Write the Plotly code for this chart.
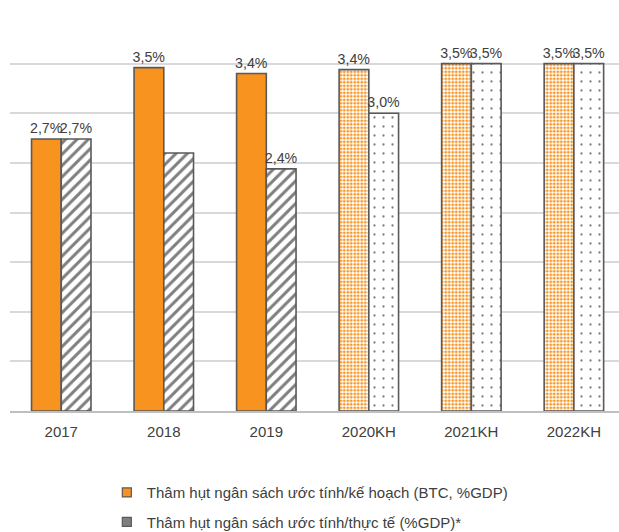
import plotly.graph_objects as go

# Budget deficit, % of GDP
years = ["2017", "2018", "2019", "2020KH", "2021KH", "2022KH"]
plan_deficit = [2.74, 3.46, 3.40, 3.44, 3.5, 3.5]      # estimate / plan (BTC)
actual_deficit = [2.74, 2.60, 2.44, 3.0, 3.5, 3.5]     # estimate / actual
actual_labelled = [True, False, True, True, True, True]

plan_name = "Thâm hụt ngân sách ước tính/kế hoạch (BTC, %GDP)"
actual_name = "Thâm hụt ngân sách ước tính/thực tế (%GDP)*"

ORANGE = "#F7931E"
GREY = "#7F7F7F"
EDGE = "#595959"
TEXT = "#404040"
FONT = "Liberation Sans, Arial, sans-serif"
FS = 15
LABEL_FS = 14.2


def pct(v):
    return f"{v:.1f}%".replace(".", ",")


n_hist = 3  # first three years are reported figures, the rest are plans
idx = range(len(years))

# planned years: orange dots on white; reported years: solid orange
plan_pattern = dict(
    shape=["" if i < n_hist else "." for i in idx],
    bgcolor="white",
    size=3.5,
    solidity=0.5,
    fillmode="replace",
)
# reported years: grey diagonal hatch; planned years: sparse grey dots
actual_pattern = dict(
    shape=["/" if i < n_hist else "." for i in idx],
    bgcolor="white",
    size=[8 if i < n_hist else 9 for i in idx],
    solidity=[0.38 if i < n_hist else 0.05 for i in idx],
    fillmode="replace",
)

fig = go.Figure()
fig.add_trace(go.Bar(
    x=years, y=plan_deficit,
    name=plan_name, showlegend=False,
    marker=dict(
        color=ORANGE,
        line=dict(color=EDGE, width=1.6),
        pattern=plan_pattern,
    ),
    text=[pct(v) for v in plan_deficit],
    textposition="outside",
    constraintext="none",
    textfont=dict(family=FONT, size=LABEL_FS, color=TEXT),
    cliponaxis=False,
))
fig.add_trace(go.Bar(
    x=years, y=actual_deficit,
    name=actual_name, showlegend=False,
    marker=dict(
        color=GREY,
        line=dict(color=EDGE, width=1.6),
        pattern=actual_pattern,
    ),
    text=[pct(v) if show else "" for v, show in zip(actual_deficit, actual_labelled)],
    textposition="outside",
    constraintext="none",
    textfont=dict(family=FONT, size=LABEL_FS, color=TEXT),
    cliponaxis=False,
))

# legend entries with solid swatches
fig.add_trace(go.Scatter(
    x=[None], y=[None], name=plan_name, mode="markers", legendgroup="a",
    marker=dict(symbol="square", size=9, color=ORANGE, line=dict(color=EDGE, width=1.2)),
))
fig.add_trace(go.Scatter(
    x=[None], y=[None], name=actual_name, mode="markers", legendgroup="b",
    marker=dict(symbol="square", size=9, color=GREY, line=dict(color=EDGE, width=1.2)),
))

fig.update_layout(
    width=619, height=532,
    margin=dict(l=10, r=0, t=14, b=121),
    paper_bgcolor="white",
    plot_bgcolor="white",
    barmode="group",
    bargap=0.42,
    bargroupgap=0,
    font=dict(family=FONT, size=FS, color=TEXT),
    xaxis=dict(
        type="category",
        range=[-0.5, 5.44],
        showline=True, linecolor="#BFBFBF", linewidth=1.5,
        ticks="", showgrid=False,
        ticklabelstandoff=6,
        tickfont=dict(family=FONT, size=FS, color=TEXT),
    ),
    yaxis=dict(
        range=[0, 4],
        dtick=0.5,
        showticklabels=False,
        showgrid=True, gridcolor="#D9D9D9", gridwidth=1.5,
        zeroline=False, ticks="",
    ),
    legend=dict(
        orientation="v",
        x=0.159, xanchor="left",
        yref="container",
        y=0.105, yanchor="top",
        tracegroupgap=7,
        font=dict(family=FONT, size=FS, color=TEXT),
        bgcolor="rgba(0,0,0,0)",
    ),
    showlegend=True,
)

fig.write_html("out.html")
